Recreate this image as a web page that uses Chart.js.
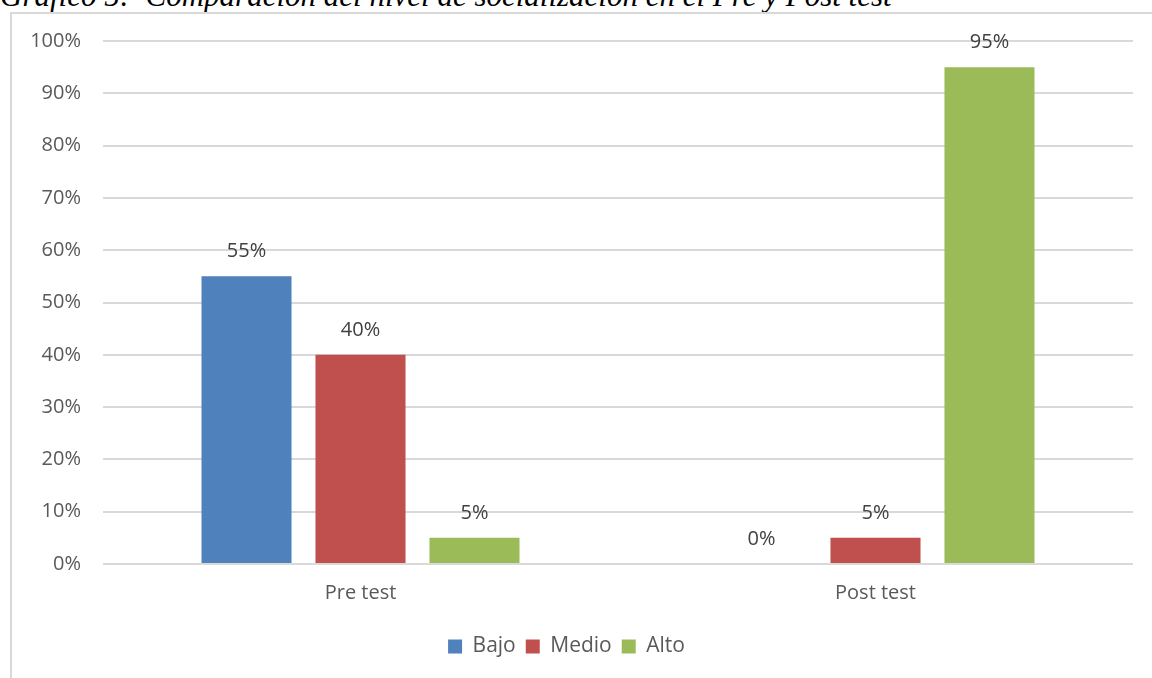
<!DOCTYPE html>
<html>
<head>
<meta charset="utf-8">
<script src="https://cdn.jsdelivr.net/npm/chart.js@4"></script>
<style>
    body { margin: 0; width: 1152px; height: 678px; overflow: hidden; background: #fff; position: relative; }
    #title { position: absolute; left: 0; top: -20px; font: italic 31px "Liberation Serif", serif; line-height: 1; white-space: nowrap; color: #000; }
    #frame { position: absolute; left: 10px; top: 12px; width: 1160px; height: 700px; border: 2px solid #d9d9d9; box-sizing: border-box; }
    #wrap { position: absolute; left: 0; top: 0; width: 1152px; height: 678px; }
</style>
</head>
<body>
<div id="title">Gráfico 5:&nbsp; Comparación del nivel de socialización en el Pre y Post test</div>
<div id="frame"></div>
<div id="wrap"><canvas id="myChart"></canvas></div>
<script>
let categories = ['Pre test', 'Post test'];
let seriesNames = ['Bajo', 'Medio', 'Alto'];
let bajoValues = [55, 0];
let medioValues = [40, 5];
let altoValues = [5, 95];
let yTicks = [0, 10, 20, 30, 40, 50, 60, 70, 80, 90, 100];
let colors = ['#4F81BD', '#C0504D', '#9BBB59'];

// draws the % labels above each bar
const barLabels = {
    id: 'barLabels',
    afterDatasetsDraw(chart) {
        const ctx = chart.ctx;
        ctx.save();
        ctx.font = '20px "Open Sans"';
        ctx.fillStyle = '#404040';
        ctx.textAlign = 'center';
        ctx.textBaseline = 'middle';
        chart.data.datasets.forEach((ds, i) => {
            chart.getDatasetMeta(i).data.forEach((bar, j) => {
                ctx.fillText(ds.data[j] + '%', bar.x, bar.y - 25);
            });
        });
        ctx.restore();
    }
};

const ctx = document.getElementById('myChart');

new Chart(ctx, {
    type: 'bar',
    data: {
        labels: categories,
        datasets: [
            { label: seriesNames[0], data: bajoValues, backgroundColor: colors[0] },
            { label: seriesNames[1], data: medioValues, backgroundColor: colors[1] },
            { label: seriesNames[2], data: altoValues, backgroundColor: colors[2] }
        ]
    },
    options: {
        responsive: true,
        maintainAspectRatio: false,
        animation: false,
        categoryPercentage: 0.664,
        barPercentage: 0.79,
        layout: { padding: { top: 41, right: 19, bottom: 11, left: 0 } },
        plugins: {
            legend: {
                position: 'bottom',
                labels: {
                    boxWidth: 14,
                    boxHeight: 14,
                    padding: 10,
                    color: '#595959',
                    font: { family: 'Open Sans', size: 21 }
                }
            },
            tooltip: { enabled: false }
        },
        scales: {
            x: {
                grid: { display: false },
                border: { display: false },
                ticks: { color: '#595959', font: { family: 'Open Sans', size: 20 }, padding: 9 },
                afterFit(scale) { scale.height = 62; }
            },
            y: {
                min: 0,
                max: 100,
                afterBuildTicks(scale) { scale.ticks = yTicks.map(v => ({ value: v })); },
                grid: { color: '#d9d9d9', lineWidth: 2, drawTicks: false },
                border: { display: false },
                ticks: {
                    color: '#595959',
                    font: { family: 'Open Sans', size: 20 },
                    padding: 22,
                    callback: v => v + '%'
                },
                afterFit(scale) { scale.width = 103; }
            }
        }
    },
    plugins: [barLabels]
});
</script>
</body>
</html>
